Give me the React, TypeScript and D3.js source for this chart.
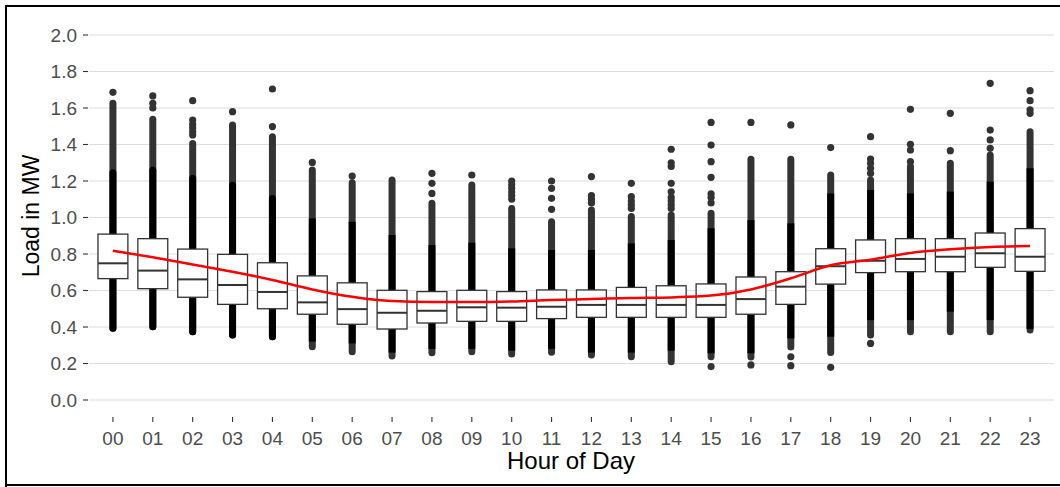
import React from "react"
import * as d3 from "d3"

// hourly load distribution (MW)
const hours = ["00", "01", "02", "03", "04", "05", "06", "07", "08", "09", "10", "11",
  "12", "13", "14", "15", "16", "17", "18", "19", "20", "21", "22", "23"]
const q1 = [0.665, 0.61, 0.563, 0.524, 0.5, 0.47, 0.415, 0.389, 0.422, 0.431, 0.431, 0.446,
  0.453, 0.453, 0.453, 0.453, 0.47, 0.524, 0.635, 0.698, 0.703, 0.703, 0.727, 0.705]
const median = [0.749, 0.709, 0.661, 0.63, 0.592, 0.535, 0.498, 0.478, 0.489, 0.508, 0.506, 0.511,
  0.521, 0.521, 0.521, 0.521, 0.553, 0.621, 0.733, 0.763, 0.773, 0.785, 0.804, 0.785]
const q3 = [0.909, 0.884, 0.827, 0.798, 0.752, 0.68, 0.642, 0.601, 0.594, 0.601, 0.594, 0.603,
  0.603, 0.617, 0.626, 0.636, 0.674, 0.703, 0.829, 0.877, 0.884, 0.884, 0.915, 0.939]
const smooth = [0.818, 0.782, 0.743, 0.703, 0.658, 0.606, 0.566, 0.542, 0.537, 0.537, 0.54, 0.548,
  0.553, 0.559, 0.562, 0.572, 0.606, 0.667, 0.738, 0.769, 0.806, 0.826, 0.839, 0.844]
// extent of the dense run of points
const lowEnd = [0.393, 0.402, 0.374, 0.356, 0.347, 0.292, 0.265, 0.241, 0.259, 0.265, 0.252, 0.261,
  0.247, 0.237, 0.21, 0.237, 0.235, 0.29, 0.26, 0.356, 0.374, 0.374, 0.374, 0.384]
const denseTop = [1.626, 1.538, 1.406, 1.507, 1.443, 1.26, 1.19, 1.205, 1.078, 1.178, 1.05, 0.977,
  1.041, 1.005, 1.014, 1.023, 1.319, 1.319, 1.233, 1.205, 1.279, 1.297, 1.342, 1.47]
// where the points pile up into solid black
const blackBottom = [0.393, 0.402, 0.374, 0.356, 0.347, 0.32, 0.31, 0.26, 0.28, 0.28, 0.27, 0.28,
  0.26, 0.26, 0.27, 0.256, 0.256, 0.338, 0.347, 0.438, 0.438, 0.484, 0.438, 0.39]
const blackTop = [1.264, 1.278, 1.233, 1.196, 1.123, 0.995, 0.977, 0.904, 0.849, 0.862, 0.831, 0.822,
  0.822, 0.858, 0.877, 0.941, 0.986, 0.968, 1.132, 1.151, 1.132, 1.142, 1.196, 1.27]
// isolated outliers
const highDots = [
  [1.686],
  [1.666, 1.626, 1.6],
  [1.64, 1.534, 1.51, 1.49, 1.47, 1.452],
  [1.58],
  [1.704, 1.498],
  [1.302],
  [1.227],
  [],
  [1.242, 1.187, 1.132],
  [1.233],
  [1.2, 1.18, 1.16, 1.14, 1.12, 1.1],
  [1.2, 1.16, 1.105, 1.045],
  [1.224, 1.12, 1.1, 1.08],
  [1.187, 1.114, 1.09, 1.07, 1.05],
  [1.374, 1.3, 1.28, 1.187, 1.141, 1.11, 1.09, 1.07, 1.05],
  [1.521, 1.397, 1.306, 1.22, 1.13, 1.11, 1.08],
  [1.521],
  [1.507],
  [1.383],
  [1.443, 1.32, 1.297, 1.27, 1.242],
  [1.593, 1.401, 1.37, 1.306],
  [1.571, 1.366],
  [1.735, 1.479, 1.425, 1.379],
  [1.695, 1.64, 1.59, 1.571],
]
const lowDots = [[], [], [], [], [], [], [], [], [], [], [], [], [], [], [],
  [0.183], [0.192], [0.237, 0.188], [0.179], [0.31], [], [], [], []]
const yTicks = [0, 0.2, 0.4, 0.6, 0.8, 1.0, 1.2, 1.4, 1.6, 1.8, 2.0]

const W = 1060
const H = 487
const font = "'Liberation Sans', Arial, sans-serif"

export default function App() {
  const x = d3.scalePoint().domain(hours).range([89, 1054]).padding(0.6)
  const y = d3.scaleLinear().domain([0, 2]).range([400, 35])
  const bw = x.step() * 0.75
  const colW = 7
  const line = d3
    .line<number>()
    .x((d, i) => x(hours[i]) as number)
    .y(d => y(d))
    .curve(d3.curveMonotoneX)

  return (
    <svg width={W} height={H} style={{ position: "absolute", left: 0, top: 0, background: "#fff" }}
      fontFamily={font}>
      {/* frame */}
      <path d={`M6,${H} V6 H${W}`} fill="none" stroke="#000" strokeWidth={2} />
      <line x1={6} x2={W} y1={485} y2={485} stroke="#000" strokeWidth={2} />

      {yTicks.map(t => (
        <g key={t}>
          <line x1={89} x2={1054} y1={y(t)} y2={y(t)} stroke="#dedede" strokeWidth={1.2} />
          <line x1={83} x2={88} y1={y(t)} y2={y(t)} stroke="#333" strokeWidth={1.1} />
          <text x={77} y={y(t)} dy="0.36em" textAnchor="end" fontSize={19} fill="#4d4d4d">
            {t.toFixed(1)}
          </text>
        </g>
      ))}

      {hours.map((h, i) => {
        const cx = x(h) as number
        return (
          <g key={h}>
            <line x1={cx} x2={cx} y1={417} y2={422} stroke="#333" strokeWidth={1.1} />
            <text x={cx} y={445} textAnchor="middle" fontSize={19} fill="#4d4d4d">{h}</text>
            {/* dense outlier columns */}
            <rect x={cx - colW / 2} width={colW} y={y(denseTop[i]) - colW / 2}
              height={y(lowEnd[i]) - y(denseTop[i]) + colW} rx={colW / 2} fill="#333" />
            <rect x={cx - colW / 2} width={colW} y={y(blackTop[i])}
              height={y(blackBottom[i]) - y(blackTop[i]) + (blackBottom[i] === lowEnd[i] ? colW / 2 : 0)}
              rx={blackBottom[i] === lowEnd[i] ? colW / 2 : 0} fill="#000" />
            {highDots[i].concat(lowDots[i]).map((v, j) => (
              <circle key={j} cx={cx} cy={y(v)} r={3.6} fill="#333" />
            ))}
            {/* box */}
            <rect x={cx - bw / 2} width={bw} y={y(q3[i])} height={y(q1[i]) - y(q3[i])}
              fill="#fff" stroke="#333" strokeWidth={1.3} />
            <line x1={cx - bw / 2} x2={cx + bw / 2} y1={y(median[i])} y2={y(median[i])}
              stroke="#333" strokeWidth={2} />
          </g>
        )
      })}

      <path d={line(smooth) || ""} fill="none" stroke="#ff0000" strokeWidth={2.5} />

      <text x={571} y={469} textAnchor="middle" fontSize={24} fill="#000">Hour of Day</text>
      <text transform={`translate(39,216) rotate(-90)`} textAnchor="middle" fontSize={23} fill="#000">
        Load in MW
      </text>
    </svg>
  )
}
